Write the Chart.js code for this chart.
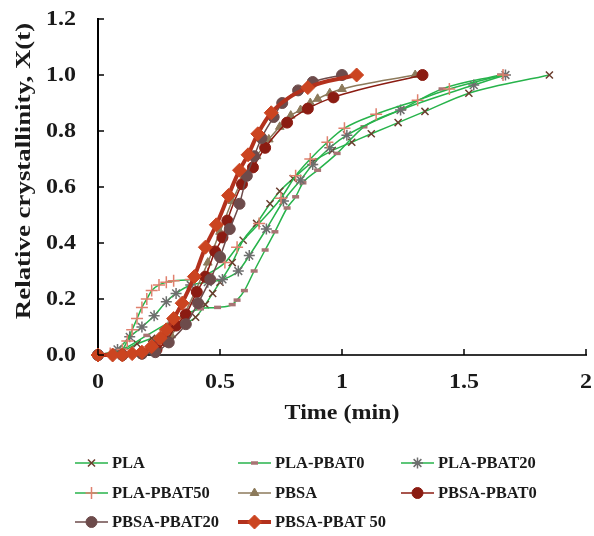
<!DOCTYPE html>
<html>
<head>
<meta charset="utf-8">
<script src="https://cdn.jsdelivr.net/npm/chart.js@4/dist/chart.umd.min.js"></script>
<style>
  html, body { margin: 0; padding: 0; background: #fff; }
</style>
</head>
<body>
<canvas id="chartId" width="594" height="536"></canvas>
<script>
// series names
const seriesNames = ['PLA', 'PLA-PBAT0', 'PLA-PBAT20', 'PLA-PBAT50', 'PBSA', 'PBSA-PBAT0', 'PBSA-PBAT20', 'PBSA-PBAT 50'];

// time (min) and relative crystallinity for each series
const plaT = [0, 0.1, 0.16, 0.22, 0.29, 0.35, 0.4, 0.44, 0.47, 0.5, 0.55, 0.595, 0.65, 0.705, 0.745, 0.8, 0.88, 0.96, 1.04, 1.12, 1.23, 1.34, 1.52, 1.85];
const plaX = [0, 0.015, 0.04, 0.06, 0.085, 0.11, 0.135, 0.18, 0.22, 0.26, 0.33, 0.41, 0.47, 0.54, 0.585, 0.63, 0.69, 0.73, 0.76, 0.79, 0.83, 0.87, 0.935, 1.0];

const pla0T = [0, 0.1, 0.2, 0.3, 0.42, 0.49, 0.55, 0.57, 0.6, 0.64, 0.685, 0.725, 0.775, 0.81, 0.84, 0.9, 0.98, 1.09, 1.25, 1.41, 1.65];
const pla0X = [0, 0.02, 0.07, 0.12, 0.165, 0.17, 0.18, 0.196, 0.23, 0.3, 0.375, 0.44, 0.525, 0.565, 0.615, 0.66, 0.72, 0.815, 0.88, 0.95, 1.0];

const pla20T = [0, 0.08, 0.13, 0.18, 0.23, 0.28, 0.32, 0.38, 0.45, 0.51, 0.575, 0.62, 0.69, 0.76, 0.83, 0.88, 0.95, 1.02, 1.24, 1.54, 1.67];
const pla20X = [0, 0.02, 0.065, 0.1, 0.14, 0.19, 0.22, 0.25, 0.26, 0.27, 0.3, 0.355, 0.45, 0.55, 0.625, 0.68, 0.74, 0.785, 0.875, 0.964, 1.0];

const pla50T = [0, 0.05, 0.1, 0.12, 0.14, 0.16, 0.18, 0.2, 0.22, 0.25, 0.28, 0.31, 0.38, 0.45, 0.52, 0.57, 0.66, 0.75, 0.81, 0.87, 0.94, 1.01, 1.14, 1.31, 1.44, 1.66];
const pla50X = [0, 0.005, 0.02, 0.05, 0.09, 0.13, 0.17, 0.2, 0.23, 0.25, 0.26, 0.265, 0.27, 0.29, 0.33, 0.385, 0.47, 0.56, 0.64, 0.70, 0.76, 0.81, 0.86, 0.91, 0.95, 1.0];

const pbsaT = [0, 0.1, 0.18, 0.24, 0.3, 0.35, 0.4, 0.45, 0.5, 0.55, 0.6, 0.65, 0.7, 0.745, 0.79, 0.83, 0.87, 0.9, 0.95, 1.0, 1.3];
const pbsaX = [0, 0, 0.005, 0.02, 0.07, 0.14, 0.23, 0.33, 0.44, 0.55, 0.64, 0.71, 0.77, 0.815, 0.855, 0.875, 0.9, 0.915, 0.935, 0.95, 1.0];

const pbsa0T = [0, 0.1, 0.18, 0.24, 0.28, 0.32, 0.36, 0.405, 0.44, 0.48, 0.51, 0.53, 0.59, 0.635, 0.685, 0.775, 0.86, 0.965, 1.33];
const pbsa0X = [0, 0, 0.005, 0.02, 0.05, 0.105, 0.145, 0.225, 0.28, 0.37, 0.42, 0.48, 0.61, 0.67, 0.74, 0.83, 0.88, 0.92, 1.0];

const pbsa20T = [0, 0.1, 0.18, 0.235, 0.29, 0.36, 0.41, 0.46, 0.5, 0.54, 0.58, 0.61, 0.64, 0.67, 0.72, 0.755, 0.82, 0.88, 1.0];
const pbsa20X = [0, 0, 0.005, 0.01, 0.045, 0.11, 0.185, 0.27, 0.35, 0.45, 0.54, 0.64, 0.71, 0.775, 0.85, 0.9, 0.945, 0.975, 1.0];

const pbsa50T = [0, 0.06, 0.1, 0.14, 0.18, 0.22, 0.255, 0.28, 0.31, 0.345, 0.395, 0.44, 0.485, 0.535, 0.58, 0.615, 0.655, 0.71, 0.86, 1.06];
const pbsa50X = [0, 0, 0, 0.005, 0.01, 0.03, 0.06, 0.09, 0.13, 0.185, 0.28, 0.385, 0.465, 0.57, 0.66, 0.715, 0.79, 0.865, 0.955, 1.0];

// tick values and their labels
const xTicks = [0, 0.5, 1, 1.5, 2];
const xTickLabels = ['0', '0.5', '1', '1.5', '2'];
const yTicks = [0, 0.2, 0.4, 0.6, 0.8, 1.0, 1.2];
const yTickLabels = ['0.0', '0.2', '0.4', '0.6', '0.8', '1.0', '1.2'];

const xTitle = 'Time (min)';
const yTitle = 'Relative crystallinity, X(t)';

const allT = [plaT, pla0T, pla20T, pla50T, pbsaT, pbsa0T, pbsa20T, pbsa50T];
const allX = [plaX, pla0X, pla20X, pla50X, pbsaX, pbsa0X, pbsa20X, pbsa50X];

const green = '#27b34b';
const styles = [
  { line: green, width: 1.5, marker: 'crossRot', mFill: '#6b3d2e', mLine: '#6b3d2e', r: 5, mw: 1.5 },
  { line: green, width: 1.5, marker: 'line', mFill: '#a87474', mLine: '#a87474', r: 3.5, mw: 3.5 },
  { line: green, width: 1.5, marker: 'star', mFill: '#6e6e6e', mLine: '#6e6e6e', r: 5.5, mw: 1.5 },
  { line: green, width: 1.5, marker: 'cross', mFill: '#e0806e', mLine: '#e0806e', r: 6, mw: 1.5 },
  { line: '#8c7a5b', width: 1.5, marker: 'triangle', mFill: '#8c7a5b', mLine: '#8c7a5b', r: 5, mw: 1 },
  { line: '#8b1c12', width: 1.5, marker: 'circle', mFill: '#8b1c12', mLine: '#8b1c12', r: 5.5, mw: 1 },
  { line: '#6d4b4b', width: 1.5, marker: 'circle', mFill: '#6d4b4b', mLine: '#6d4b4b', r: 5.5, mw: 1 },
  { line: '#b3311d', width: 4, marker: 'rectRot', mFill: '#cb4420', mLine: '#cb4420', r: 7, mw: 1 }
];

const FONT = "'Liberation Serif', 'Times New Roman', serif";
const TEXT = '#1a1a1a';

let datasets = [];
seriesNames.forEach((name, i) => {
  let pts = [];
  allT[i].forEach((t, k) => { pts.push({ x: t, y: allX[i][k] }); });
  datasets.push({
    label: name,
    data: pts,
    borderColor: styles[i].line,
    borderWidth: styles[i].width,
    backgroundColor: styles[i].mFill,
    pointStyle: styles[i].marker,
    pointRadius: styles[i].r,
    pointBackgroundColor: styles[i].mFill,
    pointBorderColor: styles[i].mLine,
    pointBorderWidth: styles[i].mw,
    fill: false,
    cubicInterpolationMode: 'monotone',
    clip: false,
    order: seriesNames.length - i
  });
});

// text drawn a little wider than the font, like the original figure
function wideText(ctx, text, x, y, sx, align, rot) {
  ctx.save();
  ctx.translate(x, y);
  if (rot) ctx.rotate(rot);
  ctx.scale(sx, 1);
  ctx.textAlign = align;
  ctx.textBaseline = 'middle';
  ctx.fillText(text, 0, 0);
  ctx.restore();
}

// inward ticks, tick labels, axis titles, legend grid
const extras = {
  id: 'extras',
  afterDraw(chart) {
    const ctx = chart.ctx;
    const xs = chart.scales.x, ys = chart.scales.y;
    const a = chart.chartArea;
    ctx.save();
    ctx.strokeStyle = '#000';
    ctx.lineWidth = 1.5;
    yTicks.forEach(v => {
      const y = ys.getPixelForValue(v);
      ctx.beginPath(); ctx.moveTo(a.left, y); ctx.lineTo(a.left + 6, y); ctx.stroke();
    });
    xTicks.forEach(v => {
      const x = xs.getPixelForValue(v);
      ctx.beginPath(); ctx.moveTo(x, a.bottom); ctx.lineTo(x, a.bottom - 6); ctx.stroke();
    });

    ctx.fillStyle = TEXT;
    ctx.font = 'bold 20px ' + FONT;
    yTicks.forEach((v, k) => {
      wideText(ctx, yTickLabels[k], a.left - 22, ys.getPixelForValue(v) + 1, 1.2, 'right');
    });
    xTicks.forEach((v, k) => {
      wideText(ctx, xTickLabels[k], xs.getPixelForValue(v), a.bottom + 28, 1.2, 'center');
    });
    wideText(ctx, xTitle, (a.left + a.right) / 2, a.bottom + 59, 1.2, 'center');
    ctx.font = 'bold 21px ' + FONT;
    wideText(ctx, yTitle, 25, 171, 1.28, 'center', -Math.PI / 2);

    const colX = [75, 238, 401];
    const rowY = [463, 493, 522];
    ctx.font = 'bold 16.5px ' + FONT;
    ctx.textBaseline = 'middle';
    ctx.textAlign = 'left';
    seriesNames.forEach((name, i) => {
      const s = styles[i];
      const x0 = colX[i % 3], y0 = rowY[Math.floor(i / 3)];
      ctx.strokeStyle = s.line;
      ctx.lineWidth = s.width;
      ctx.beginPath(); ctx.moveTo(x0, y0); ctx.lineTo(x0 + 33, y0); ctx.stroke();
      ctx.fillStyle = s.mFill;
      ctx.strokeStyle = s.mLine;
      ctx.lineWidth = s.mw;
      Chart.helpers.drawPoint(ctx, { pointStyle: s.marker, radius: s.r, rotation: 0, borderWidth: s.mw }, x0 + 16.5, y0);
      ctx.fillStyle = TEXT;
      ctx.fillText(name, x0 + 37, y0 + 1);
    });
    ctx.restore();
  }
};

const chrt = document.getElementById('chartId').getContext('2d');
window.myChart = new Chart(chrt, {
  type: 'line',
  data: { datasets: datasets },
  options: {
    responsive: false,
    animation: false,
    layout: { padding: { top: 19, right: 8, bottom: 111, left: 0 } },
    plugins: { legend: { display: false }, tooltip: { enabled: false } },
    scales: {
      x: {
        type: 'linear',
        min: 0, max: 2,
        afterFit: (scale) => { scale.height = 70; scale.paddingLeft = 0; scale.paddingRight = 0; },
        afterBuildTicks: (scale) => { scale.ticks = xTicks.map(v => ({ value: v })); },
        grid: { display: true, drawOnChartArea: false, drawTicks: false },
        border: { color: '#333', width: 2 },
        ticks: { display: false }
      },
      y: {
        min: 0, max: 1.2,
        afterFit: (scale) => { scale.width = 98; scale.paddingTop = 0; scale.paddingBottom = 0; },
        afterBuildTicks: (scale) => { scale.ticks = yTicks.map(v => ({ value: v })); },
        grid: { display: true, drawOnChartArea: false, drawTicks: false },
        border: { color: '#000', width: 2 },
        ticks: { display: false }
      }
    }
  },
  plugins: [extras]
});
</script>
</body>
</html>
